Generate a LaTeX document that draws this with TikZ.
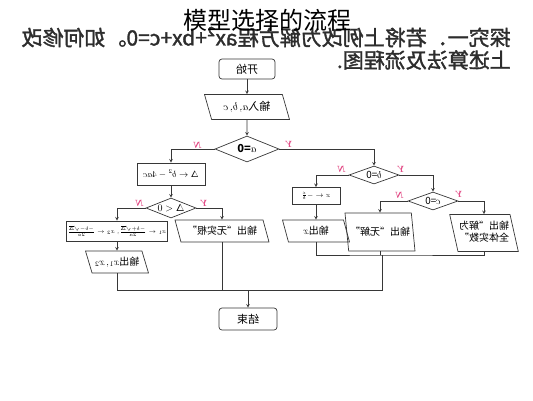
\documentclass[tikz,border=0pt]{standalone}
\usepackage{fontspec}
\usepackage{graphicx}
\usepackage{xcolor}
\usetikzlibrary{shapes.geometric}

\newfontfamily\cjk{Noto Sans CJK SC}
\newfontfamily\cjkbold{Noto Sans CJK SC}[FakeBold=1.6]
\newcommand{\mirtext}[1]{\reflectbox{#1}}

\definecolor{branchpink}{RGB}{225,70,130}
\definecolor{linegray}{RGB}{55,55,55}
\definecolor{headgray}{RGB}{45,45,45}

\tikzset{
	flow/.style = {draw=linegray, line width=0.6pt},
	startstop/.style = {draw=linegray, line width=0.7pt, rounded corners=3pt, minimum width=56pt, minimum height=20pt, inner sep=1pt, font=\cjk\fontsize{11}{12}\selectfont},
	process/.style = {draw=linegray, line width=0.9pt, inner sep=1pt, font=\cjk\fontsize{9}{10}\selectfont},
	decision/.style = {draw=linegray, line width=0.7pt, diamond, aspect=2.6, inner sep=0pt, font=\cjk\fontsize{10}{11}\selectfont},
	io/.style = {draw=linegray, line width=0.7pt, trapezium, trapezium left angle=118, trapezium right angle=62, trapezium stretches body, inner sep=1pt, font=\cjk\fontsize{10}{11}\selectfont},
	branch/.style = {text=branchpink, inner sep=0pt, font=\bfseries\itshape\fontsize{9}{9}\selectfont},
}

\begin{document}
\begin{tikzpicture}[x=1pt, y=-1pt]
		%frame
		\useasboundingbox (0,0) rectangle (533,400);

		%page text
		\node [anchor=east, inner sep=0pt, text=headgray, font=\cjkbold\fontsize{21}{22}\selectfont] (line1) at (511,37) {\mirtext{探究一．若将上例改为解方程ax²+bx+c=0。如何修改}};
		\node [anchor=east, inner sep=0pt, text=headgray, font=\cjkbold\fontsize{21}{22}\selectfont] (line2) at (511,60) {\mirtext{上述算法及流程图.}};
		\node [inner sep=0pt, font=\cjk\fontsize{24}{26}\selectfont] (title) at (267,20) {模型选择的流程};

		%start and input
		\node [startstop] (start) at (247,69) {\mirtext{开始}};
		\node [io, minimum width=85pt, minimum height=25pt, font=\cjk\fontsize{11}{12}\selectfont] (input) at (247,107) {\mirtext{输入$a,b,c$}};
		\node [decision, minimum width=64pt, minimum height=26pt, font=\cjk\bfseries\fontsize{11}{12}\selectfont] (azero) at (247,149) {\mirtext{$a$=0}};

		%quadratic branch
		\node [process, minimum width=68pt, minimum height=22pt] (delta) at (171,174) {\mirtext{$\Delta\leftarrow b^2-4ac$}};
		\node [decision, minimum width=50pt, minimum height=20pt] (dneg) at (171,208) {\mirtext{$\Delta<0$}};
		\node [process, minimum width=98pt, minimum height=20pt, font=\fontsize{6}{7}\selectfont] (roots) at (117,231) {\mirtext{$x_1\leftarrow\frac{-b+\sqrt{\Delta}}{2a}$, $x_2\leftarrow\frac{-b-\sqrt{\Delta}}{2a}$}};
		\node [io, minimum width=63pt, minimum height=22pt] (outroots) at (117,262) {\mirtext{输出$x_1,x_2$}};
		\node [io, minimum width=94pt, minimum height=22pt] (outnoreal) at (222,231) {\mirtext{输出“无实根”}};

		%linear branch
		\node [decision, minimum width=50pt, minimum height=18pt] (bzero) at (374,175) {\mirtext{$b$=0}};
		\node [process, minimum width=48pt, minimum height=17pt, font=\fontsize{7}{8}\selectfont] (xval) at (316,196) {\mirtext{$x\leftarrow-\frac{c}{b}$}};
		\node [io, minimum width=67pt, minimum height=22pt] (outx) at (316,231) {\mirtext{输出$x$}};
		\node [decision, minimum width=50pt, minimum height=18pt] (czero) at (433,201) {\mirtext{$c$=0}};
		\node [io, minimum width=70pt, minimum height=38pt, trapezium left angle=108, trapezium right angle=72] (outnosol) at (380,232) {\mirtext{输出“无解”}};
		\node [io, minimum width=67pt, minimum height=37pt, trapezium left angle=108, trapezium right angle=72, align=center] (outall) at (484,233) {\mirtext{\begin{tabular}{@{}c@{}}输出“解为\\全体实数”\end{tabular}}};

		%end
		\node [startstop, minimum width=58pt, minimum height=22pt] (stop) at (248,319) {\mirtext{结束}};

		%connectors
		\draw [flow, -stealth] (start) -- (input);
		\draw [flow, -stealth] (input) -- (azero);
		\draw [flow, -stealth] (azero.west) -| (delta.north);
		\draw [flow, -stealth] (azero.east) -| (bzero.north);
		\draw [flow, -stealth] (delta) -- (dneg);
		\draw [flow, -stealth] (dneg.west) -| (roots.north);
		\draw [flow, -stealth] (roots) -- (outroots);
		\draw [flow, -stealth] (dneg.east) -| (outnoreal.north);
		\draw [flow, -stealth] (bzero.west) -| (xval.north);
		\draw [flow, -stealth] (xval) -- (outx);
		\draw [flow, -stealth] (bzero.east) -| (czero.north);
		\draw [flow, -stealth] (czero.west) -| (outnosol.north);
		\draw [flow, -stealth] (czero.east) -| (outall.north);

		%merging lines
		\coordinate (rjoin) at (382,255);
		\coordinate (ljoin) at (248,290);
		\draw [flow] (outx.south) |- (rjoin) -| (outall.south);
		\draw [flow] (outnosol.south) -- (outnosol.south |- rjoin);
		\draw [flow] (outroots.south) |- (ljoin);
		\draw [flow] (outnoreal.south) -- (outnoreal.south |- ljoin);
		\draw [flow] (rjoin) |- (ljoin);
		\draw [flow, -stealth] (ljoin) -- (stop);

		%branch labels
		\node [branch] (an) at (198,145) {\mirtext{N}};
		\node [branch] (ay) at (290,144) {\mirtext{Y}};
		\node [branch] (dn) at (140,203) {\mirtext{N}};
		\node [branch] (dy) at (205,203) {\mirtext{Y}};
		\node [branch] (bn) at (342,169) {\mirtext{N}};
		\node [branch] (by) at (402,169) {\mirtext{Y}};
		\node [branch] (cn) at (400,195) {\mirtext{N}};
		\node [branch] (cy) at (460,194) {\mirtext{Y}};
	\end{tikzpicture}
\end{document}
